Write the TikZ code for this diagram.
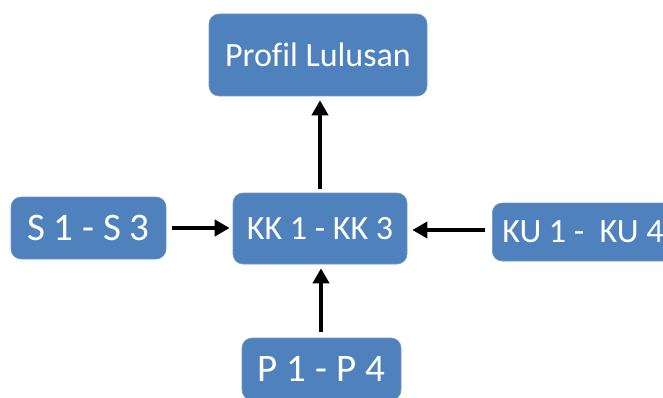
\documentclass[tikz,border=0pt]{standalone}
\usepackage{fontspec}
\setmainfont[Ligatures=NoCommon]{Carlito}
\usetikzlibrary{arrows.meta}
\definecolor{boxblue}{HTML}{4F81BD}
\definecolor{boxedge}{HTML}{6F97C8}
\tikzset{
  box/.style={fill=boxblue, draw=boxedge, line width=0.6pt, rounded corners=10pt,
    text=white, inner sep=0pt, align=center},
  arr/.style={line width=4.8pt, -{Triangle[length=15pt,width=16pt]}},
}
\begin{document}
\begin{tikzpicture}[x=1pt,y=-1pt]
\useasboundingbox (0,0) rectangle (663,398);
\clip (0,0) rectangle (663,398);
\node[box, minimum width=218pt, minimum height=82pt, font=\fontsize{34}{40}\selectfont] (prof) at (318,55) {Profil Lulusan};
\node[box, minimum width=155pt, minimum height=62pt, font=\fontsize{39}{46}\selectfont] (s) at (88.5,228) {S 1 - S 3};
\node[box, minimum width=174pt, minimum height=71pt, font=\fontsize{34}{40}\selectfont] (kk) at (320,228.5) {KK 1 - KK 3};
\node[box, anchor=west, inner xsep=10pt, minimum height=58pt, font=\fontsize{34}{40}\selectfont] (ku) at (492,232) {KU 1 -~ KU 4};
\node[box, minimum width=159pt, minimum height=62pt, font=\fontsize{39}{46}\selectfont] (p) at (321.5,369) {P 1 - P 4};
\draw[arr, shorten <=6pt, shorten >=3pt] (s.east) -- (s.east -| kk.west);
\draw[arr, shorten <=7pt, shorten >=5pt] (ku.west |- 0,230) -- (kk.east |- 0,230);
\draw[arr, shorten <=6pt, shorten >=4pt] (p.north -| 321,0) -- (kk.south -| 321,0);
\draw[arr, shorten <=4pt, shorten >=4pt] (kk.north) -- (prof.south -| kk.north);
\end{tikzpicture}
\end{document}
